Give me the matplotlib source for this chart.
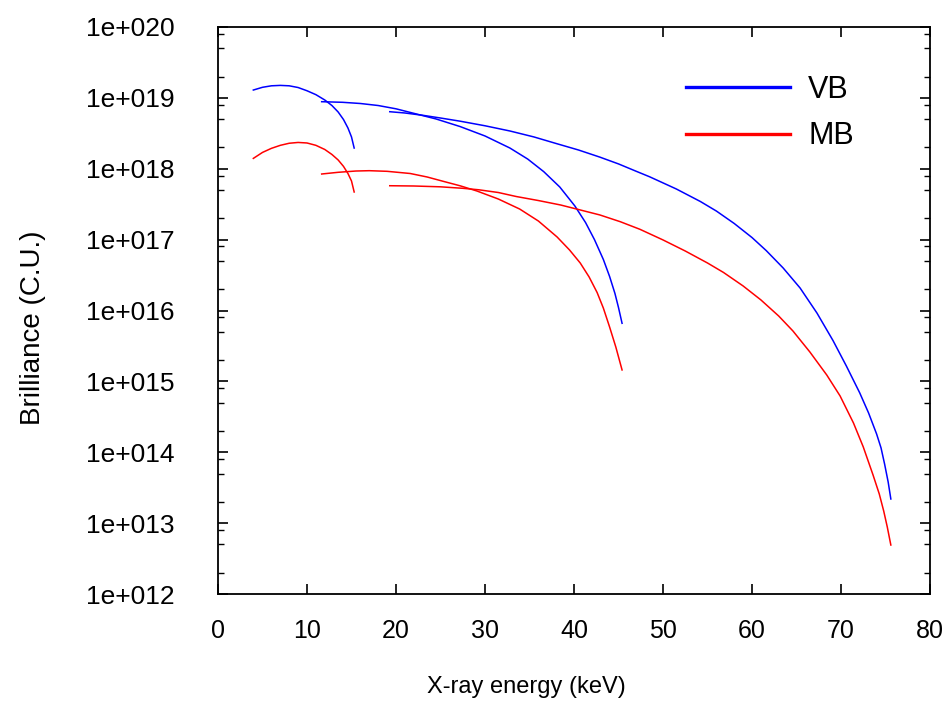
import numpy as np
import matplotlib
matplotlib.use("Agg")
import matplotlib.pyplot as plt
from matplotlib.ticker import LogLocator, FixedLocator, NullFormatter
from matplotlib.lines import Line2D

plt.rcParams['font.family'] = ['Liberation Sans', 'DejaVu Sans']

# ---- data ----
vb1_x = [3.97, 5.0, 6.0, 7.0, 8.0, 9.0, 10.0, 11.0, 12.0, 12.8, 13.5, 14.1, 14.6, 15.0, 15.3]
vb1_y = [1.29e19, 1.41e19, 1.48e19, 1.50e19, 1.48e19, 1.40e19, 1.26e19, 1.11e19, 9.33e18, 7.80e18,
         6.32e18, 4.95e18, 3.76e18, 2.81e18, 1.96e18]

vb3_x = [11.65, 14.0, 16.0, 18.0, 20.0, 22.3, 24.5, 27.2, 30.0, 32.8, 34.8, 36.6, 38.4, 40.1, 41.3,
         42.3, 43.3, 44.0, 44.6, 45.0, 45.4]
vb3_y = [8.83e18, 8.66e18, 8.33e18, 7.80e18, 7.01e18, 5.92e18, 5.04e18, 3.94e18, 2.90e18, 1.96e18,
         1.37e18, 9.1e17, 5.53e17, 2.98e17, 1.74e17, 1.00e17, 5.24e16, 3.02e16, 1.74e16, 1.10e16, 6.6e15]

vb5_x = [19.3, 21.0, 23.0, 25.0, 27.2, 30.0, 32.8, 35.5, 38.0, 40.5, 42.9, 45.0, 47.0, 48.5, 51.5,
         54.2, 56.0, 58.0, 60.0, 61.6, 63.5, 65.4, 67.3, 69.1, 70.6, 72.1, 73.1, 74.0, 74.5, 74.9,
         75.3, 75.6]
vb5_y = [6.38e18, 6.12e18, 5.68e18, 5.20e18, 4.69e18, 4.04e18, 3.41e18, 2.81e18, 2.27e18, 1.84e18,
         1.46e18, 1.17e18, 9.2e17, 7.7e17, 5.18e17, 3.45e17, 2.53e17, 1.69e17, 1.07e17, 7.0e16,
         3.98e16, 2.08e16, 9.2e15, 3.77e15, 1.65e15, 6.9e14, 3.58e14, 1.81e14, 1.15e14, 6.8e13,
         3.80e13, 2.19e13]

mb1_x = [3.97, 5.0, 6.0, 7.0, 8.0, 9.0, 10.0, 11.0, 12.0, 12.8, 13.5, 14.1, 14.6, 15.0, 15.3]
mb1_y = [1.40e18, 1.70e18, 1.94e18, 2.14e18, 2.29e18, 2.35e18, 2.31e18, 2.14e18, 1.87e18, 1.59e18,
         1.33e18, 1.08e18, 8.57e17, 6.72e17, 4.70e17]

mb3_x = [11.65, 13.5, 15.5, 17.0, 19.0, 21.6, 23.5, 25.3, 27.2, 29.1, 31.5, 33.9, 36.0, 38.1, 39.5,
         40.7, 41.7, 42.6, 43.3, 44.0, 44.7, 45.4]
mb3_y = [8.43e17, 8.91e17, 9.29e17, 9.39e17, 9.20e17, 8.57e17, 7.65e17, 6.65e17, 5.75e17, 4.85e17,
         3.74e17, 2.70e17, 1.83e17, 1.09e17, 7.14e16, 4.68e16, 2.97e16, 1.79e16, 1.08e16, 5.85e15,
         3.05e15, 1.45e15]

mb5_x = [19.3, 22.0, 25.0, 27.5, 29.3, 31.5, 33.5, 36.0, 38.5, 40.5, 42.9, 45.2, 47.4, 50.0, 52.5,
         55.0, 56.8, 59.0, 61.0, 63.0, 64.6, 66.5, 68.4, 69.9, 71.4, 72.5, 73.6, 74.3, 74.8, 75.2, 75.6]
mb5_y = [5.76e17, 5.71e17, 5.56e17, 5.30e17, 5.05e17, 4.62e17, 4.06e17, 3.56e17, 3.08e17, 2.66e17,
         2.23e17, 1.79e17, 1.40e17, 9.9e16, 6.91e16, 4.68e16, 3.44e16, 2.22e16, 1.41e16, 8.36e15,
         5.14e15, 2.60e15, 1.23e15, 6.22e14, 2.59e14, 1.19e14, 4.78e13, 2.58e13, 1.48e13, 8.82e12,
         4.91e12]

x_ticks = [0, 10, 20, 30, 40, 50, 60, 70, 80]
y_ticks = [1e12, 1e13, 1e14, 1e15, 1e16, 1e17, 1e18, 1e19, 1e20]
y_tick_labels = ["1e+012", "1e+013", "1e+014", "1e+015", "1e+016",
                 "1e+017", "1e+018", "1e+019", "1e+020"]
series_labels = ["VB", "MB"]

blue = "#0000ff"
red = "#ff0000"

fig = plt.figure(figsize=(9.44, 7.04), dpi=100)
ax = fig.add_axes([218 / 944, 110 / 704, 712 / 944, 567 / 704])

lw = 1.1
for xs, ys in [(vb1_x, vb1_y), (vb3_x, vb3_y), (vb5_x, vb5_y)]:
    ax.plot(xs, ys, color=blue, lw=lw, solid_joinstyle='round')
for xs, ys in [(mb1_x, mb1_y), (mb3_x, mb3_y), (mb5_x, mb5_y)]:
    ax.plot(xs, ys, color=red, lw=lw, solid_joinstyle='round')

ax.set_yscale('log')
ax.set_xlim(0, 80)
ax.set_ylim(1e12, 1e20)

ax.xaxis.set_major_locator(FixedLocator(x_ticks))
ax.set_xticklabels([str(t) for t in x_ticks])
ax.yaxis.set_major_locator(FixedLocator(y_ticks))
ax.set_yticklabels(y_tick_labels)
ax.yaxis.set_minor_locator(LogLocator(base=10, subs=[2, 5, 8], numticks=20))
ax.yaxis.set_minor_formatter(NullFormatter())

for s in ax.spines.values():
    s.set_linewidth(1.3)

ax.tick_params(axis='both', which='major', direction='in', length=7, width=1.2,
               top=True, right=True)
ax.tick_params(axis='y', which='minor', direction='in', length=4, width=1.0,
               right=True)
ax.tick_params(axis='x', which='major', labelsize=18, pad=18)
ax.tick_params(axis='y', which='major', labelsize=19, pad=31)

ax.set_xlabel("X-ray energy (keV)", fontsize=17)
ax.set_ylabel("Brilliance (C.U.)", fontsize=20)
ax.xaxis.set_label_coords(0.4326, -0.1446)
ax.yaxis.set_label_coords(-0.2416, 0.47)

# legend
handles = [Line2D([], [], color=blue, lw=2.4), Line2D([], [], color=red, lw=2.4)]
ax.legend(handles, series_labels, loc='upper left', bbox_to_anchor=(0.657, 0.916),
          frameon=False, fontsize=22, handlelength=3.4, handletextpad=0.6,
          borderpad=0, borderaxespad=0, labelspacing=0.55)

fig.savefig("out.png", dpi=100)
